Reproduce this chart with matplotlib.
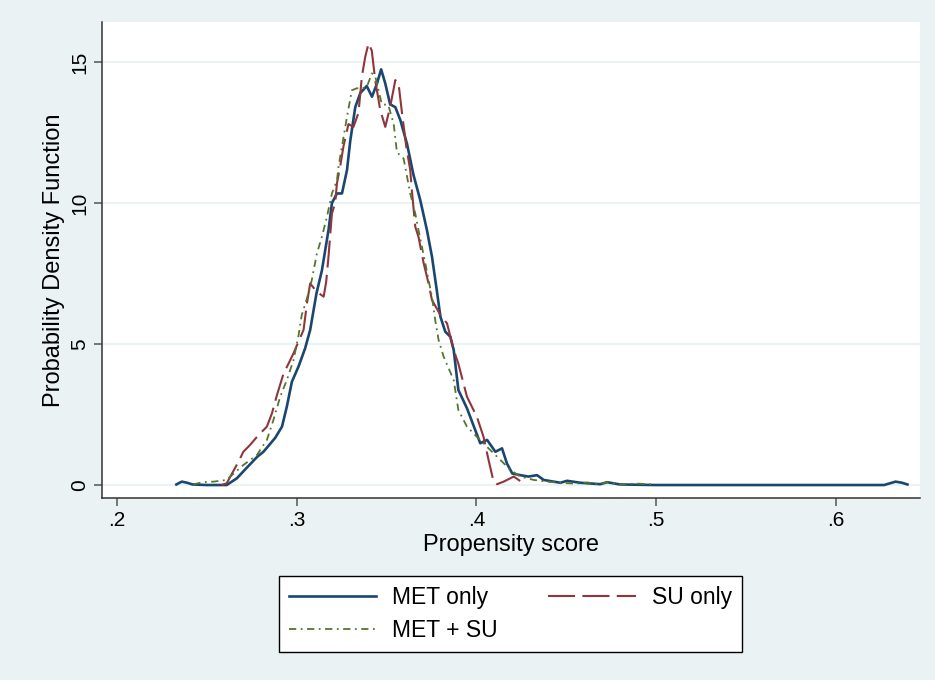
import matplotlib
matplotlib.use("Agg")
import matplotlib.pyplot as plt

plt.rcParams['font.family'] = ['Liberation Sans', 'DejaVu Sans']

# propensity score density curves
met_x = [0.233, 0.236, 0.239, 0.242, 0.250, 0.261, 0.2667, 0.272, 0.278, 0.2815, 0.288, 0.2918,
         0.2945, 0.2973, 0.301, 0.3047, 0.3075, 0.311, 0.314, 0.3177, 0.3196, 0.3224, 0.3252, 0.328,
         0.3298, 0.3326, 0.3354, 0.339, 0.3419, 0.3447, 0.347, 0.3493, 0.352, 0.3549, 0.3577, 0.3614,
         0.365, 0.3688, 0.3725, 0.3753, 0.378, 0.380, 0.3827, 0.3855, 0.3874, 0.390, 0.3948, 0.4022,
         0.406, 0.4106, 0.4143, 0.417, 0.420, 0.4245, 0.429, 0.4338, 0.4375, 0.4468, 0.4505, 0.458,
         0.469, 0.4728, 0.480, 0.50, 0.55, 0.60, 0.627, 0.6334, 0.637, 0.640]
met_y = [0.02, 0.12, 0.08, 0.02, 0.0, 0.0, 0.24, 0.6, 1.0, 1.18, 1.67, 2.07,
         2.78, 3.66, 4.2, 4.85, 5.5, 6.8, 7.6, 9.04, 10.0, 10.34, 10.34, 11.17,
         12.2, 13.4, 13.9, 14.15, 13.77, 14.24, 14.74, 14.24, 13.5, 13.4, 12.94, 12.1,
         11.0, 10.1, 9.04, 8.1, 6.9, 5.97, 5.44, 5.26, 4.79, 3.37, 2.72, 1.48,
         1.6, 1.18, 1.3, 0.77, 0.41, 0.35, 0.3, 0.35, 0.18, 0.08, 0.15, 0.08,
         0.03, 0.1, 0.02, 0.0, 0.0, 0.0, 0.0, 0.12, 0.08, 0.02]

su_x = [0.258, 0.261, 0.2676, 0.2703, 0.274, 0.2787, 0.2834, 0.2862, 0.289, 0.2927, 0.2954, 0.2982,
        0.3038, 0.3057, 0.3075, 0.311, 0.315, 0.3164, 0.3177, 0.3196, 0.3214, 0.3224, 0.3242, 0.326,
        0.3288, 0.3316, 0.3344, 0.3363, 0.3382, 0.340, 0.3418, 0.3437, 0.3465, 0.3493, 0.352, 0.3549,
        0.3567, 0.3586, 0.361, 0.3632, 0.3641, 0.366, 0.3678, 0.3707, 0.3734, 0.3753, 0.380, 0.3837,
        0.3874, 0.390, 0.3948, 0.4003, 0.404, 0.4068, 0.4096, 0.4115, 0.4152, 0.4208, 0.4236, 0.4264]
su_y = [0.0, 0.06, 0.83, 1.18, 1.42, 1.77, 2.07, 2.54, 3.19, 3.96, 4.3, 4.67,
        5.5, 6.44, 7.15, 6.86, 6.68, 7.2, 8.1, 9.63, 10.0, 10.7, 11.3, 12.0,
        12.8, 12.7, 13.2, 14.5, 15.2, 15.66, 15.4, 14.36, 13.3, 12.7, 13.4, 14.36,
        14.24, 13.2, 12.0, 11.17, 10.46, 9.16, 8.8, 7.86, 7.15, 6.56, 6.03, 5.73,
        4.79, 4.3, 3.13, 2.42, 1.71, 0.89, 0.12, 0.03, 0.12, 0.3, 0.18, 0.03]

both_x = [0.2425, 0.2475, 0.2537, 0.261, 0.2639, 0.2703, 0.2778, 0.2834, 0.287, 0.2908, 0.2945, 0.2982,
          0.3010, 0.3028, 0.3057, 0.3084, 0.3112, 0.314, 0.3168, 0.3196, 0.3224, 0.3233, 0.328, 0.3307,
          0.3335, 0.3363, 0.339, 0.3419, 0.3437, 0.3474, 0.351, 0.354, 0.3558, 0.3595, 0.3632, 0.366,
          0.3678, 0.3697, 0.3716, 0.3734, 0.3753, 0.3771, 0.379, 0.3818, 0.3874, 0.390, 0.3948, 0.4003,
          0.4068, 0.4134, 0.419, 0.4245, 0.432, 0.4394, 0.4468, 0.455, 0.462, 0.468, 0.473, 0.480,
          0.490, 0.498]
both_y = [0.02, 0.1, 0.12, 0.18, 0.35, 0.71, 1.06, 1.6, 2.3, 3.13, 3.72, 4.43,
          5.3, 6.03, 6.62, 7.27, 8.2, 8.8, 9.5, 10.34, 10.8, 11.3, 13.06, 14.0,
          14.07, 14.07, 14.12, 14.6, 14.5, 13.5, 13.48, 12.8, 11.8, 11.58, 10.34, 9.63,
          9.04, 8.45, 7.86, 7.27, 6.68, 5.85, 5.14, 4.55, 3.72, 2.66, 2.07, 1.71,
          1.3, 0.89, 0.53, 0.3, 0.18, 0.12, 0.08, 0.05, 0.09, 0.03, 0.1, 0.03,
          0.05, 0.02]

xticks = [0.2, 0.3, 0.4, 0.5, 0.6]
xtick_labels = ['.2', '.3', '.4', '.5', '.6']
yticks = [0, 5, 10, 15]

bg = '#eaf2f3'
fig = plt.figure(figsize=(9.35, 6.8), dpi=100, facecolor=bg)
ax = fig.add_axes([102 / 935, 1 - 498 / 680, 818 / 935, 476 / 680])
ax.set_facecolor('white')

l1, = ax.plot(met_x, met_y, color='#1a476f', lw=1.9, label='MET only')
l2, = ax.plot(su_x, su_y, color='#90353b', lw=1.5, dashes=(13, 3.5), label='SU only')
l3, = ax.plot(both_x, both_y, color='#55752f', lw=1.3, dashes=(4, 2.5, 1, 2.5), label='MET + SU')

ax.set_xlim(0.1916, 0.647)
ax.set_ylim(-0.46, 16.42)
ax.set_xticks(xticks)
ax.set_xticklabels(xtick_labels)
ax.set_yticks(yticks)
ax.set_yticklabels([str(v) for v in yticks], rotation=90, va='center')
ax.grid(axis='y', color=bg, lw=1.5)
ax.set_axisbelow(True)

for s in ['top', 'right']:
    ax.spines[s].set_visible(False)
for s in ['left', 'bottom']:
    ax.spines[s].set_color('#333333')
    ax.spines[s].set_linewidth(1.1)
ax.tick_params(axis='both', direction='out', length=6, width=1.1, color='#555555',
               labelsize=15, pad=3)

ax.set_xlabel('Propensity score', fontsize=17, labelpad=3)
ax.set_ylabel('Probability Density Function', fontsize=17, labelpad=4)

leg = ax.legend([l1, l3, l2], ['MET only', 'MET + SU', 'SU only'], ncol=2,
                loc='center', bbox_to_anchor=(0.546, 0.097), bbox_transform=fig.transFigure,
                fontsize=16.5, frameon=True, fancybox=False, framealpha=1,
                edgecolor='black', handlelength=3.8, handletextpad=0.7,
                columnspacing=2.2, labelspacing=0.4, borderpad=0.45)
leg.get_frame().set_linewidth(1.0)

fig.savefig('out.png', dpi=100, facecolor=bg)
